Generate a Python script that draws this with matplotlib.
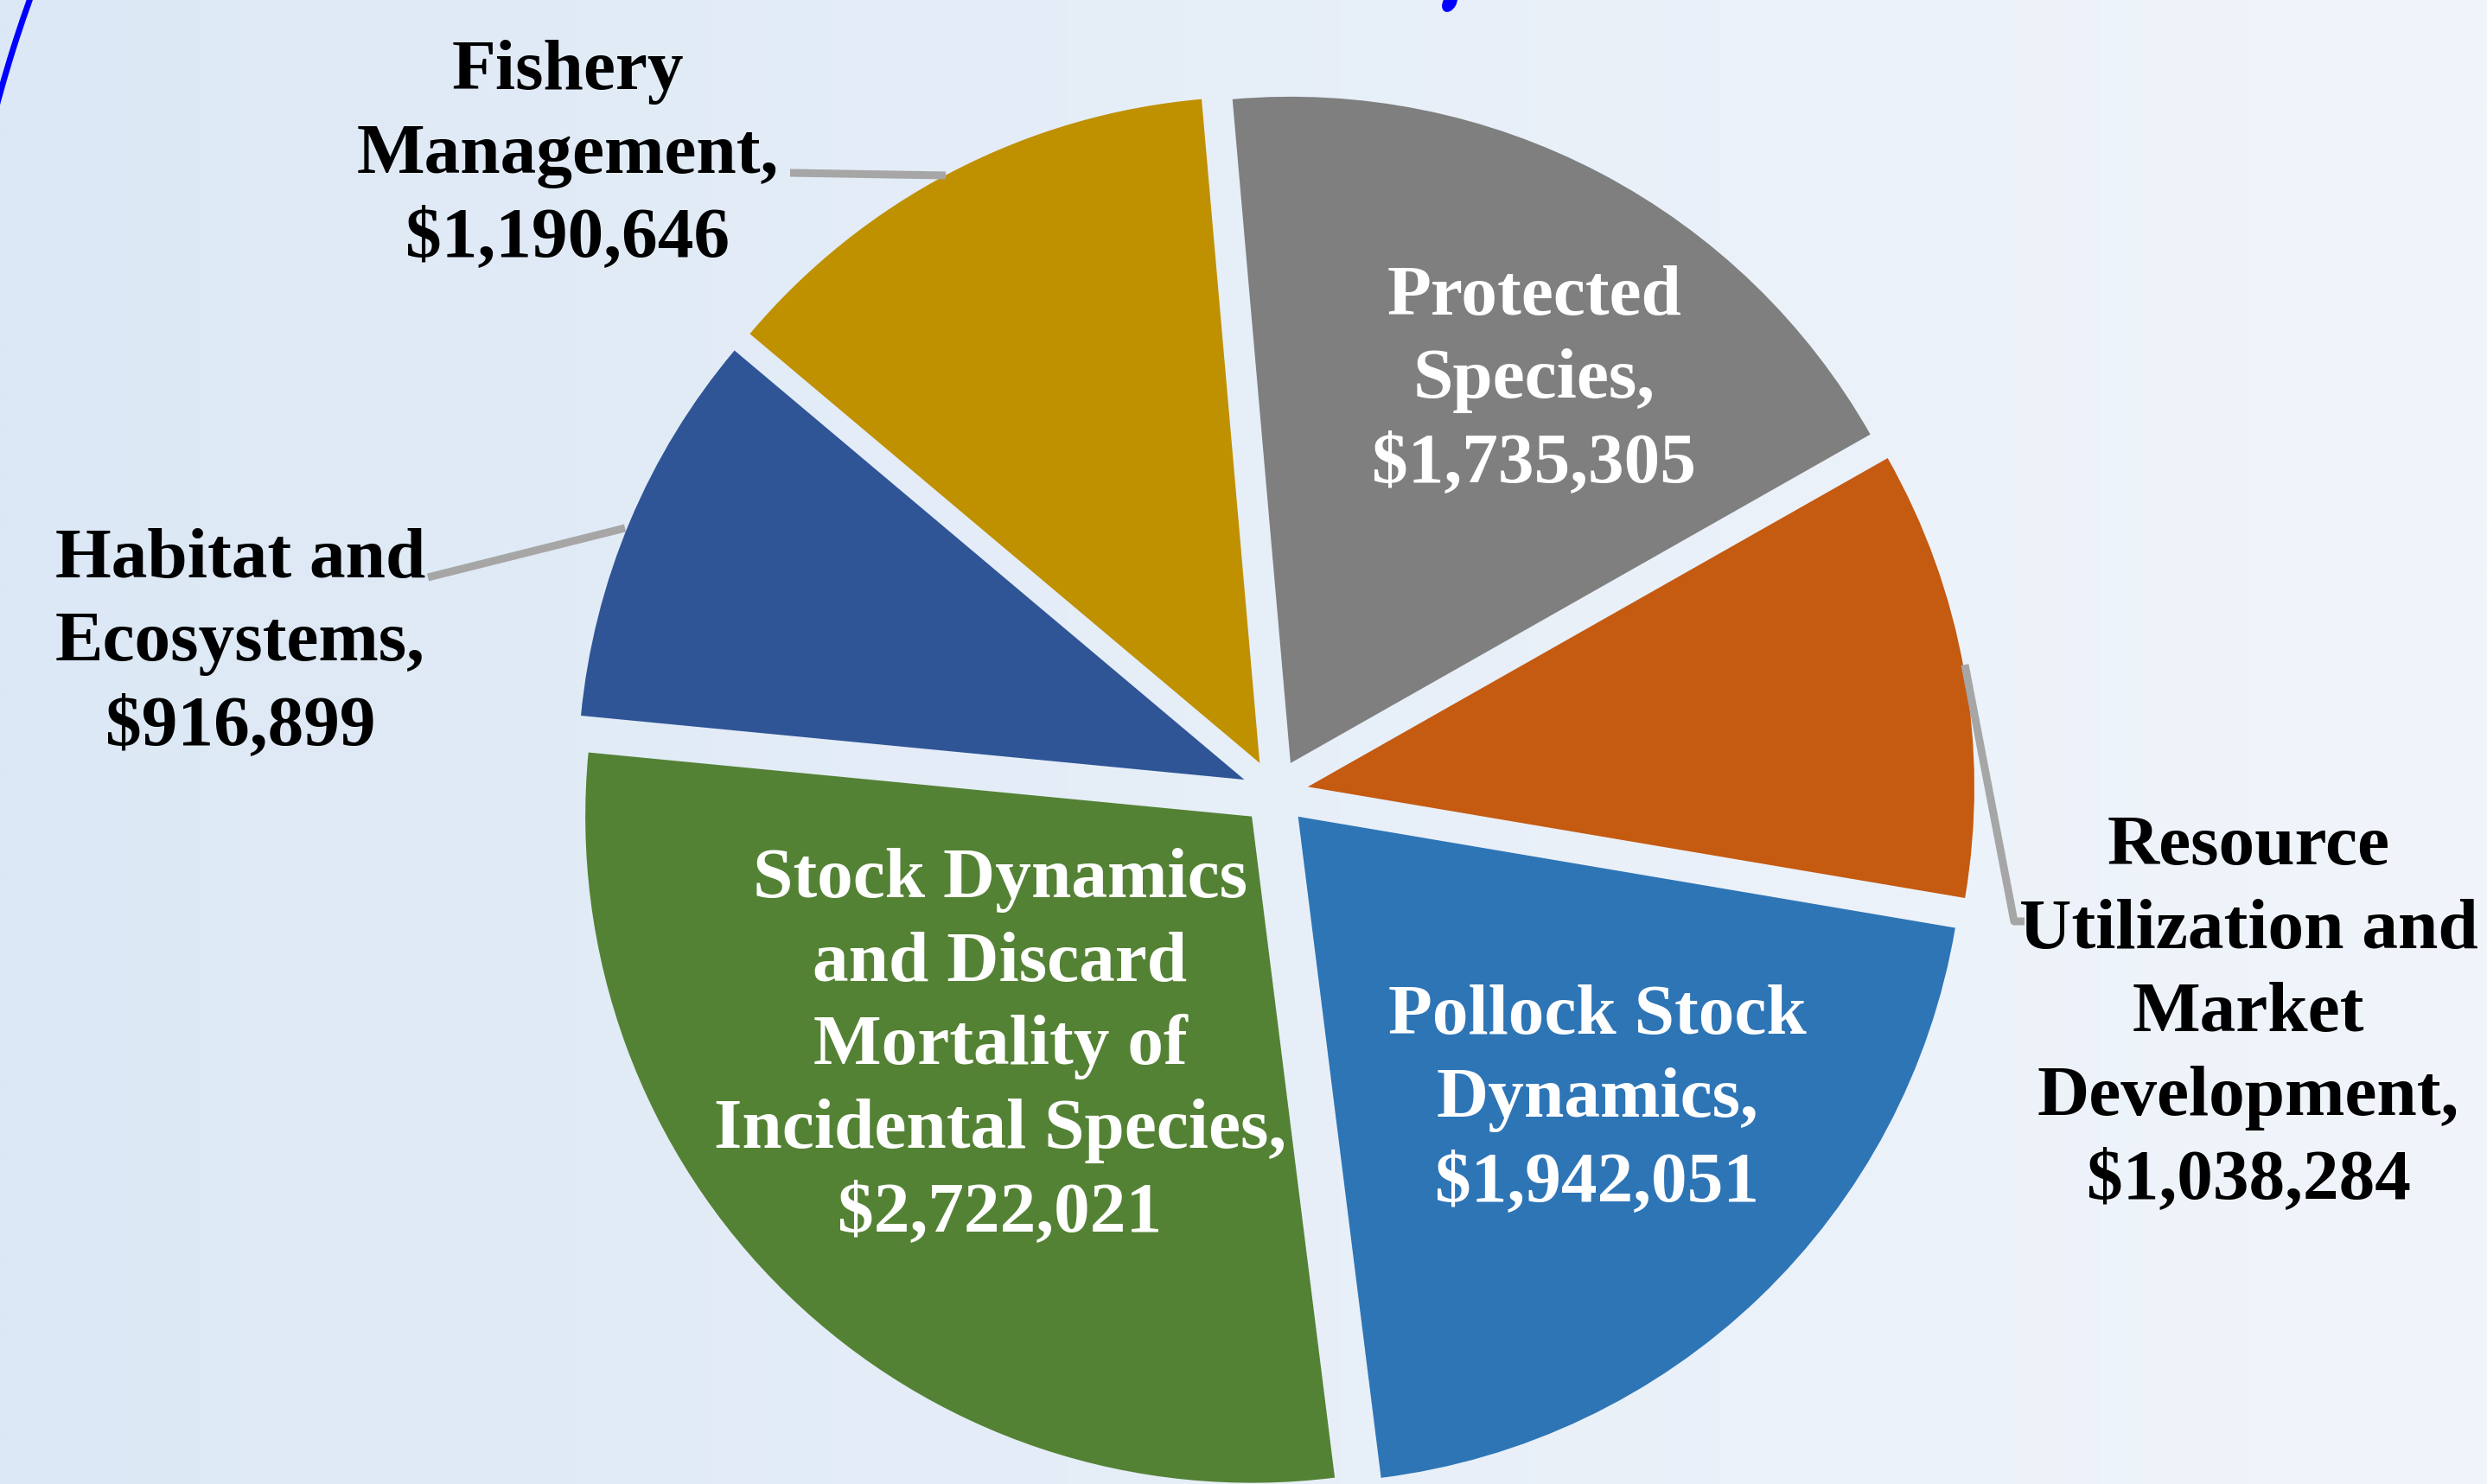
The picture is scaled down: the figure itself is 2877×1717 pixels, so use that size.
import numpy as np
import matplotlib
matplotlib.use("Agg")
import matplotlib.pyplot as plt
from matplotlib.patches import Arc, Ellipse

# ---- data ----
categories = [
    "Protected\nSpecies,",
    "Resource\nUtilization and\nMarket\nDevelopment,",
    "Pollock Stock\nDynamics,",
    "Stock Dynamics\nand Discard\nMortality of\nIncidental Species,",
    "Habitat and\nEcosystems,",
    "Fishery\nManagement,",
]
values = [1735305, 1038284, 1942051, 2722021, 916899, 1190646]
colors = ["#7f7f7f", "#c55a11", "#2e75b6", "#548235", "#2f5597", "#bf9000"]
label_colors = ["white", "black", "white", "white", "black", "black"]

# ---- layout (pixel coordinates, y measured from top) ----
W, H = 2877, 1717
pie_center = (1475, 917)
pie_radius = 771
explode_frac = 0.05
label_anchor = [(1775, 364), (2601, 1000), (1848, 1196), (1157, 1038), (278, 668), (657, 103)]
line_step = 96.5

fig = plt.figure(figsize=(W / 100, H / 100), dpi=100)
ax = fig.add_axes([0, 0, 1, 1])

# background gradient
left = np.array([220, 232, 245]) / 255
right = np.array([241, 245, 251]) / 255
t = np.linspace(0, 1, 300)[None, :, None]
grad = left * (1 - t) + right * t
grad = np.repeat(grad, 2, axis=0)
ax.imshow(grad, extent=(0, W, 0, H), aspect="auto", zorder=0, interpolation="bilinear")

# decorative arc top-left and title fragment
ax.add_patch(Arc((1446, H - 507), 3000, 3000, theta1=155, theta2=170,
                 color="#0000ff", lw=5, zorder=1))
ax.add_patch(Ellipse((1677, H - 3), 14, 22, angle=-30, color="#0000ff", zorder=1))

wedges, _ = ax.pie(values, colors=colors, startangle=95, counterclock=False,
                   explode=[explode_frac * pie_radius] * len(values),
                   radius=pie_radius, center=(pie_center[0], H - pie_center[1]),
                   wedgeprops=dict(linewidth=0), frame=False)
for w in wedges:
    w.set_zorder(2)

# leader lines
lc = "#a6a6a6"
ax.plot([914, 1094], [H - 200, H - 203], color=lc, lw=6.5, zorder=3, solid_capstyle="butt")
ax.plot([495, 723], [H - 668, H - 611], color=lc, lw=6.5, zorder=3, solid_capstyle="butt")
ax.plot([2273, 2330, 2342], [H - 769, H - 1066, H - 1066], color=lc, lw=6.5, zorder=3,
        solid_capstyle="butt", solid_joinstyle="round")

# labels
for cat, val, col, (x0, y0) in zip(categories, values, label_colors, label_anchor):
    lines = cat.split("\n") + [f"${val:,}"]
    for i, ln in enumerate(lines):
        ax.text(x0, H - (y0 + i * line_step), ln, ha="center", va="baseline",
                color=col, fontsize=60, fontweight="bold",
                family=["Liberation Serif", "DejaVu Serif"], zorder=4)

ax.set_xlim(0, W)
ax.set_ylim(0, H)
ax.set_aspect("equal")
ax.axis("off")
fig.savefig("out.png", dpi=100)
